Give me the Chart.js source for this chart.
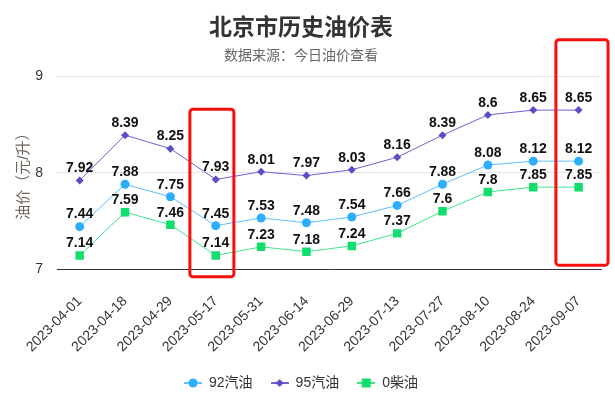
<!DOCTYPE html>
<html>
<head>
<meta charset="utf-8">
<script src="https://cdn.jsdelivr.net/npm/chart.js@4"></script>
<style>
html,body{margin:0;padding:0;background:#fff;}
#wrap{width:615px;height:397px;position:relative;}
</style>
</head>
<body>
<div id="wrap"><canvas id="c"></canvas></div>
<script>
const categories = ['2023-04-01','2023-04-18','2023-04-29','2023-05-17','2023-05-31','2023-06-14','2023-06-29','2023-07-13','2023-07-27','2023-08-10','2023-08-24','2023-09-07'];
const gas92 = [7.44,7.88,7.75,7.45,7.53,7.48,7.54,7.66,7.88,8.08,8.12,8.12];
const gas95 = [7.92,8.39,8.25,7.93,8.01,7.97,8.03,8.16,8.39,8.6,8.65,8.65];
const diesel0 = [7.14,7.59,7.46,7.14,7.23,7.18,7.24,7.37,7.6,7.8,7.85,7.85];
const seriesNames = ['92汽油','95汽油','0柴油'];
const yTicks = [7,8,9];
// highlight boxes in data coordinates (category index range, value range)
const highlightX = [[2.43,3.4],[10.5,11.65]];
const highlightY = [[6.92,8.66],[7.04,9.38]];

const FONT = "'Liberation Sans', Arial, 'Noto Sans CJK SC', sans-serif";
const CJK = "'Liberation Sans', 'Noto Sans CJK SC', sans-serif";

function legendIcon(lineColor, markerColor, shape){
  const c = document.createElement('canvas');
  c.width = 18; c.height = 12;
  const g = c.getContext('2d');
  g.strokeStyle = lineColor; g.lineWidth = 2;
  g.beginPath(); g.moveTo(0,6); g.lineTo(18,6); g.stroke();
  g.fillStyle = markerColor;
  g.beginPath();
  if(shape==='circle'){ g.arc(9,6,4.5,0,Math.PI*2); }
  else if(shape==='diamond'){ g.moveTo(9,2); g.lineTo(13,6); g.lineTo(9,10); g.lineTo(5,6); g.closePath(); }
  else { g.rect(4.5,1.5,9,9); }
  g.fill();
  return c;
}

const colors = [
  {line:'#5cc0fa', marker:'#2eaefa', shape:'circle'},
  {line:'#6d62d0', marker:'#5a4ec6', shape:'diamond'},
  {line:'#3fe48f', marker:'#12de6e', shape:'square'}
];
const icons = colors.map(c=>legendIcon(c.line,c.marker,c.shape));

const dataLabels = {
  id:'dataLabels',
  afterDatasetsDraw(chart){
    const ctx = chart.ctx;
    ctx.save();
    ctx.font = "bold 14px " + FONT;
    ctx.fillStyle = '#111';
    ctx.textAlign = 'center';
    ctx.textBaseline = 'bottom';
    chart.data.datasets.forEach((ds,i)=>{
      const meta = chart.getDatasetMeta(i);
      meta.data.forEach((pt,j)=>{
        ctx.fillText(String(ds.data[j]), pt.x, pt.y - 5);
      });
    });
    ctx.restore();
  }
};

const highlights = {
  id:'highlights',
  afterDraw(chart){
    const xs = chart.scales.x, ys = chart.scales.y, ctx = chart.ctx;
    ctx.save();
    ctx.strokeStyle = '#f5100c';
    ctx.lineWidth = 3;
    highlightX.forEach((hx,i)=>{
      const x1 = xs.getPixelForValue(hx[0]), x2 = xs.getPixelForValue(hx[1]);
      const y1 = ys.getPixelForValue(highlightY[i][1]), y2 = ys.getPixelForValue(highlightY[i][0]);
      ctx.beginPath();
      if (ctx.roundRect) ctx.roundRect(x1,y1,x2-x1,y2-y1,3); else ctx.rect(x1,y1,x2-x1,y2-y1);
      ctx.stroke();
    });
    ctx.restore();
  }
};

const legendShift = {
  id:'legendShift',
  afterLayout(chart){
    const lg = chart.legend;
    if (lg) { lg.top += 3; lg.bottom += 3; }
  }
};

const mkDs = (label,data,i,style,radius)=>({
  label, data,
  borderColor: colors[i].line,
  backgroundColor: colors[i].marker,
  pointBackgroundColor: colors[i].marker,
  pointBorderColor: colors[i].marker,
  pointBorderWidth: 0,
  borderWidth: 1,
  pointStyle: style,
  pointRadius: radius,
  pointHoverRadius: radius,
  tension: 0
});

new Chart(document.getElementById('c'), {
  type:'line',
  data:{
    labels: categories,
    datasets:[
      mkDs(seriesNames[0], gas92, 0, 'circle', 4.5),
      mkDs(seriesNames[1], gas95, 1, 'rectRot', 4),
      mkDs(seriesNames[2], diesel0, 2, 'rect', 6)
    ]
  },
  options:{
    responsive:true,
    maintainAspectRatio:false,
    animation:false,
    layout:{padding:{left:0,right:13,top:0,bottom:0}},
    plugins:{
      title:{display:true,text:'北京市历史油价表',color:'#333',
        font:{family:CJK,size:23,weight:'bold',lineHeight:1.2},padding:{top:15,bottom:2}},
      subtitle:{display:true,text:'数据来源：今日油价查看',color:'#666',
        font:{family:CJK,size:14,lineHeight:1.2},padding:{top:3,bottom:12}},
      legend:{position:'bottom',
        labels:{
          usePointStyle:true,
          pointStyleWidth:18,
          boxHeight:12,
          padding:18,
          color:'#333',
          font:{family:CJK,size:14},
          generateLabels(chart){
            return chart.data.datasets.map((ds,i)=>({
              text: ds.label, pointStyle: icons[i], fillStyle: colors[i].marker,
              strokeStyle: colors[i].line, lineWidth:0, hidden:false, datasetIndex:i, fontColor:'#333'
            }));
          }
        }
      },
      tooltip:{enabled:false}
    },
    scales:{
      x:{
        offset:true,
        grid:{display:false,drawTicks:false},
        border:{display:true,color:'#333',width:1},
        ticks:{color:'#333',font:{family:FONT,size:14},minRotation:45,maxRotation:45,padding:24,autoSkip:false},
        afterFit(s){ s.height = 86; }
      },
      y:{
        min:7,max:9,
        afterBuildTicks(s){ s.ticks = yTicks.map(v=>({value:v})); },
        grid:{color:'#e6e6e6',drawTicks:false,lineWidth:1},
        border:{display:false},
        ticks:{color:'#333',font:{family:FONT,size:14},padding:14},
        title:{display:true,text:'油价（元/升）',color:'#6b625a',font:{family:CJK,size:15,lineHeight:1.2},padding:{top:15,bottom:0}},
        afterFit(s){ s.width = 57; }
      }
    }
  },
  plugins:[dataLabels, highlights, legendShift]
});
</script>
</body>
</html>
